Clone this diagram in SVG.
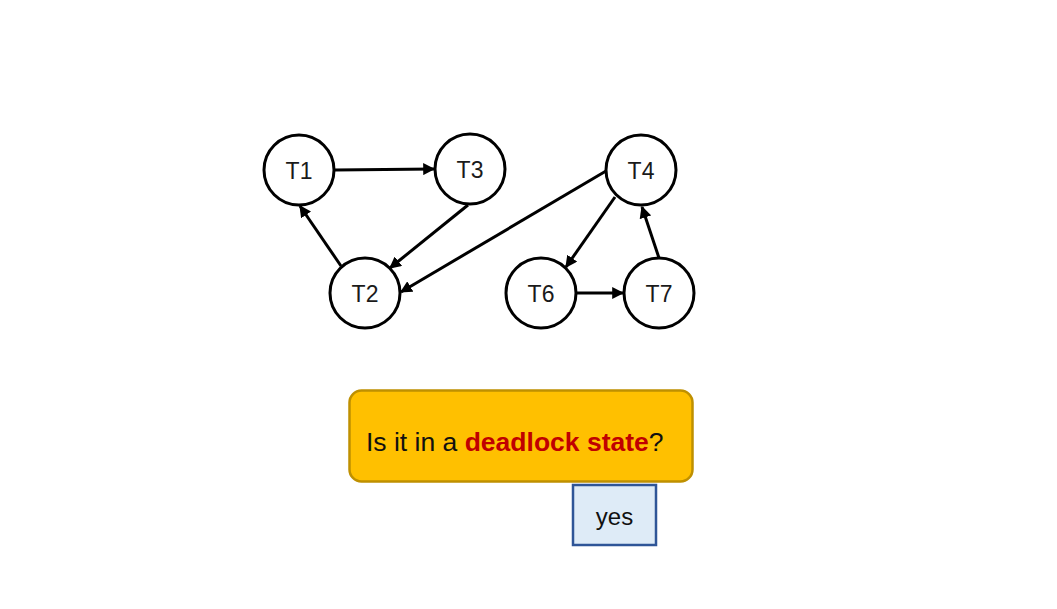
<svg xmlns="http://www.w3.org/2000/svg" width="1057" height="609" viewBox="0 0 1057 609">
<style>
.node circle{fill:#fff;stroke:#000;stroke-width:3}
.node text{font-family:"Liberation Sans",Arial,sans-serif;font-size:23px;fill:#1a1a1a;text-anchor:middle}
.edges line{stroke:#000;stroke-width:3;marker-end:url(#ah)}
</style>
<defs>
<marker id="ah" viewBox="0 0 10 10" refX="9" refY="5" markerWidth="4" markerHeight="4" orient="auto" markerUnits="strokeWidth">
<path d="M0,0 L10,5 L0,10 z" fill="#000"/>
</marker>
</defs>
<rect width="1057" height="609" fill="#fff"/>
<g class="edges" id="connectors">
<line x1="335" y1="170" x2="434" y2="169"/>
<line x1="468" y1="205" x2="390" y2="268"/>
<line x1="341" y1="266" x2="300" y2="206"/>
<line x1="606" y1="171" x2="401" y2="292"/>
<line x1="615" y1="197" x2="566" y2="267"/>
<line x1="577" y1="293" x2="623" y2="293"/>
<line x1="659" y1="258" x2="642" y2="207"/>
</g>
<g class="node" id="T1"><circle cx="299" cy="170" r="35"/><text x="299" y="179">T1</text></g>
<g class="node" id="T3"><circle cx="470" cy="169" r="35"/><text x="470" y="178">T3</text></g>
<g class="node" id="T4"><circle cx="641" cy="170" r="35"/><text x="641" y="179">T4</text></g>
<g class="node" id="T2"><circle cx="365" cy="293" r="35"/><text x="365" y="302">T2</text></g>
<g class="node" id="T6"><circle cx="541" cy="293" r="35"/><text x="541" y="302">T6</text></g>
<g class="node" id="T7"><circle cx="659" cy="293" r="35"/><text x="659" y="302">T7</text></g>
<g id="question">
<rect x="349.5" y="390.5" width="343" height="91" rx="12" fill="#FFC000" stroke="#BF9000" stroke-width="2.5"/>
<text x="366" y="451" font-family="Liberation Sans,Arial,sans-serif" font-size="26.5" fill="#111">Is it in a <tspan fill="#C00000" font-weight="bold">deadlock state</tspan>?</text>
</g>
<g id="yes">
<rect x="573" y="485" width="83" height="60" fill="#DEEBF7" stroke="#2F5597" stroke-width="2.5"/>
<text x="614.5" y="525" font-family="Liberation Sans,Arial,sans-serif" font-size="24" fill="#111" text-anchor="middle">yes</text>
</g>
</svg>
